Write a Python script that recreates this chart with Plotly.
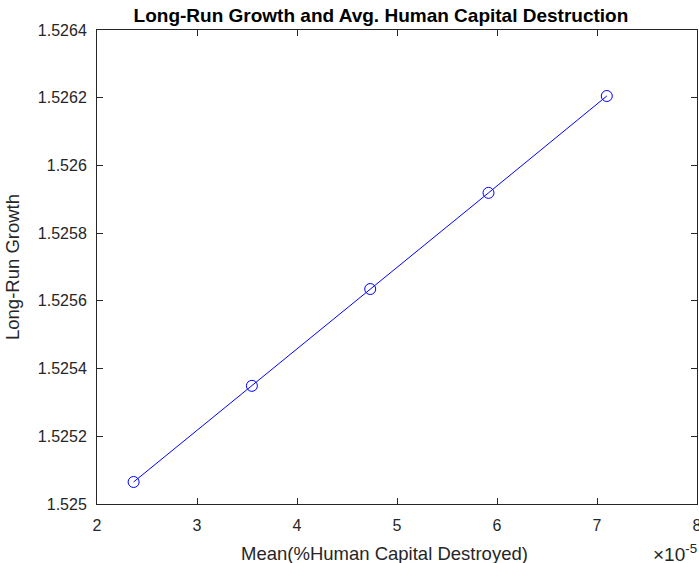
import plotly.graph_objects as go

# mean % human capital destroyed and long-run growth
mean_destroyed = [2.366e-5, 3.549e-5, 4.732e-5, 5.915e-5, 7.098e-5]
long_run_growth = [1.525065, 1.525349, 1.525635, 1.525919, 1.526205]

x_ticks = [2e-5, 3e-5, 4e-5, 5e-5, 6e-5, 7e-5, 8e-5]
x_tick_text = ["2", "3", "4", "5", "6", "7", "8"]
y_ticks = [1.525, 1.5252, 1.5254, 1.5256, 1.5258, 1.526, 1.5262, 1.5264]
y_tick_text = ["1.525", "1.5252", "1.5254", "1.5256", "1.5258", "1.526", "1.5262", "1.5264"]

AXIS_COLOR = "#262626"

fig = go.Figure()
fig.add_trace(
    go.Scatter(
        x=mean_destroyed,
        y=long_run_growth,
        mode="lines+markers",
        line={"color": "#0000ff", "width": 1},
        marker={"symbol": "circle-open", "size": 11, "color": "#0000ff", "line": {"width": 1}},
        showlegend=False,
    )
)

axis_common = dict(
    showgrid=False,
    zeroline=False,
    showline=True,
    linecolor=AXIS_COLOR,
    linewidth=1,
    mirror="allticks",
    ticks="inside",
    ticklen=6,
    tickcolor=AXIS_COLOR,
    tickfont={"size": 16, "color": AXIS_COLOR},
    ticklabeloverflow="allow",
    automargin=False,
)

fig.update_xaxes(
    range=[2e-5, 8e-5],
    tickvals=x_ticks,
    ticktext=x_tick_text,
    ticklabelstandoff=7,
    **axis_common,
)
fig.update_yaxes(
    range=[1.525, 1.5264],
    tickvals=y_ticks,
    ticktext=y_tick_text,
    ticklabelstandoff=6,
    title={"text": "Long-Run Growth", "font": {"size": 18.5, "color": AXIS_COLOR}, "standoff": 13},
    **axis_common,
)

# x label sits a little left of the axis centre, as in the original
fig.add_annotation(
    text="Mean(%Human Capital Destroyed)",
    xref="paper",
    yref="paper",
    x=0.479,
    y=-0.1035,
    xanchor="center",
    yanchor="middle",
    showarrow=False,
    font={"size": 18.5, "color": AXIS_COLOR},
)
fig.add_annotation(
    text="×10<sup>-5</sup>",
    xref="paper",
    yref="paper",
    x=1.003,
    y=-0.103,
    xanchor="right",
    yanchor="middle",
    showarrow=False,
    font={"size": 19, "color": AXIS_COLOR},
)

fig.update_layout(
    width=699,
    height=563,
    margin={"l": 97, "r": 2, "t": 30, "b": 59, "autoexpand": False},
    paper_bgcolor="white",
    plot_bgcolor="white",
    font={"family": "Liberation Sans, Arial, sans-serif"},
    title={
        "text": "<b>Long-Run Growth and Avg. Human Capital Destruction</b>",
        "x": 0.545,
        "xanchor": "center",
        "y": 0.985,
        "yanchor": "top",
        "font": {"size": 19, "color": "#000000"},
    },
)

# the page's default body margin would shift the fixed-size figure
fig.write_html(
    "out.html",
    config={"displayModeBar": False},
    post_script="document.body.style.margin = '0';",
)
